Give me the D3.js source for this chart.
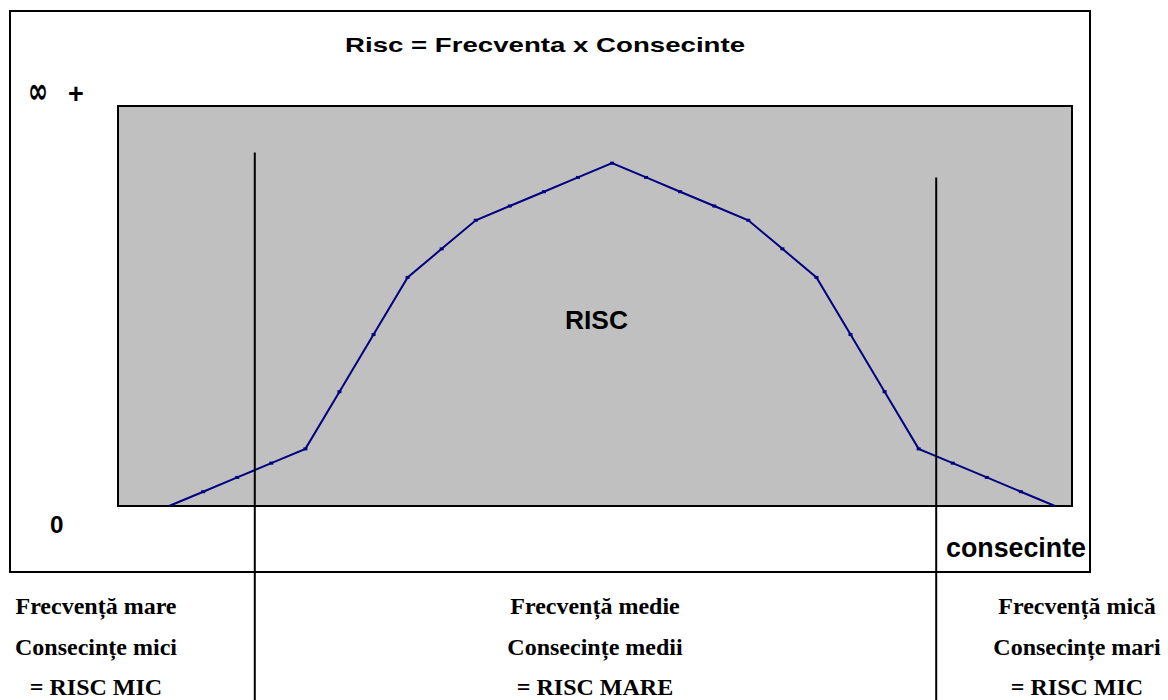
<!DOCTYPE html>
<html>
<head>
<meta charset="utf-8">
<script src="https://cdn.jsdelivr.net/npm/d3@7"></script>
<style>
  body { margin: 0; background: #fff; }
  svg { display: block; }
</style>
</head>
<body>
<script>

// date
var categorii = d3.range(28);
var risc = [null, 0, 1, 2, 3, 4, 8, 12, 16, 18, 20, 21, 22, 23, 24, 23, 22, 21, 20, 18, 16, 12, 8, 4, 3, 2, 1, 0];
var yMax = 28;

// linii verticale: pozitia (granita de categorie) si inaltimea
var separatoare = [{cat: 4, top: 24.75}, {cat: 24, top: 23}];

var etichete = [
  {cx: 96,   rows: ["Frecvență mare", "Consecințe mici", "= RISC MIC"]},
  {cx: 595,  rows: ["Frecvență medie", "Consecințe medii", "= RISC MARE"]},
  {cx: 1077, rows: ["Frecvență mică", "Consecințe mari", "= RISC MIC"]}
];

var width = 1168, height = 700;
var plot = {left: 118, top: 106, right: 1072, bottom: 506};

var svg = d3.select("body").append("svg")
    .attr("width", width)
    .attr("height", height);

var x = d3.scaleBand()
    .domain(categorii)
    .range([plot.left, plot.right])
    .paddingInner(0).paddingOuter(0);

var y = d3.scaleLinear()
    .domain([0, yMax])
    .range([plot.bottom, plot.top]);

// chenarul exterior
svg.append("rect")
    .attr("x", 10).attr("y", 11)
    .attr("width", 1080).attr("height", 561)
    .attr("fill", "#fff")
    .attr("stroke", "#000")
    .attr("stroke-width", 2);

// zona graficului
svg.append("rect")
    .attr("x", plot.left).attr("y", plot.top)
    .attr("width", plot.right - plot.left)
    .attr("height", plot.bottom - plot.top)
    .attr("fill", "#c0c0c0")
    .attr("stroke", "#000")
    .attr("stroke-width", 2);

var cx = function(i){ return x(categorii[i]) + x.bandwidth() / 2; };

var line = d3.line()
    .defined(function(d){ return d != null; })
    .x(function(d, i){ return cx(i); })
    .y(function(d){ return y(d); });

svg.append("path")
    .datum(risc)
    .attr("d", line)
    .attr("fill", "none")
    .attr("stroke", "#000080")
    .attr("stroke-width", 2);

// mici marcaje la fiecare punct
svg.selectAll("rect.mk")
    .data(risc.map(function(v, i){ return {v: v, i: i}; }).filter(function(d){ return d.v != null && d.v > 0; }))
  .enter().append("rect")
    .attr("class", "mk")
    .attr("x", function(d){ return cx(d.i) - 2; })
    .attr("y", function(d){ return y(d.v) - 1.5; })
    .attr("width", 4).attr("height", 3)
    .attr("fill", "#000080");

// separatoare
svg.selectAll("line.sep")
    .data(separatoare)
  .enter().append("line")
    .attr("class", "sep")
    .attr("x1", function(d){ return x(d.cat) + 0.5; })
    .attr("x2", function(d){ return x(d.cat) + 0.5; })
    .attr("y1", function(d){ return y(d.top); })
    .attr("y2", height)
    .attr("stroke", "#000")
    .attr("stroke-width", 2);

var sans = "Liberation Sans, Arial, sans-serif";
var serif = "Liberation Serif, Times New Roman, serif";

function txt(t, px, py, size, fam){
  return svg.append("text")
    .attr("x", px).attr("y", py)
    .attr("font-family", fam || sans)
    .attr("font-size", size)
    .attr("font-weight", "bold")
    .attr("fill", "#000")
    .text(t);
}

txt("Risc = Frecventa x Consecinte", 345, 52, 20.5)
    .attr("textLength", 400)
    .attr("lengthAdjust", "spacingAndGlyphs");

txt("∞", 28, 103, 36, "DejaVu Sans, sans-serif")
    .attr("textLength", 20)
    .attr("lengthAdjust", "spacingAndGlyphs");
txt("+", 68, 103, 27);

txt("RISC", 565, 329, 25)
    .attr("textLength", 63)
    .attr("lengthAdjust", "spacingAndGlyphs");

txt("0", 50, 533, 23)
    .attr("textLength", 13.5)
    .attr("lengthAdjust", "spacingAndGlyphs");

txt("consecinte", 946, 557, 27)
    .attr("textLength", 140)
    .attr("lengthAdjust", "spacingAndGlyphs");

var grup = svg.selectAll("g.eticheta")
    .data(etichete)
  .enter().append("g")
    .attr("class", "eticheta");

grup.selectAll("text")
    .data(function(d){ return d.rows.map(function(r){ return {cx: d.cx, t: r}; }); })
  .enter().append("text")
    .attr("x", function(d){ return d.cx; })
    .attr("y", function(d, i){ return 614 + i * 40.5; })
    .attr("text-anchor", "middle")
    .attr("font-family", serif)
    .attr("font-size", 24)
    .attr("font-weight", "bold")
    .text(function(d){ return d.t; });

</script>
</body>
</html>
